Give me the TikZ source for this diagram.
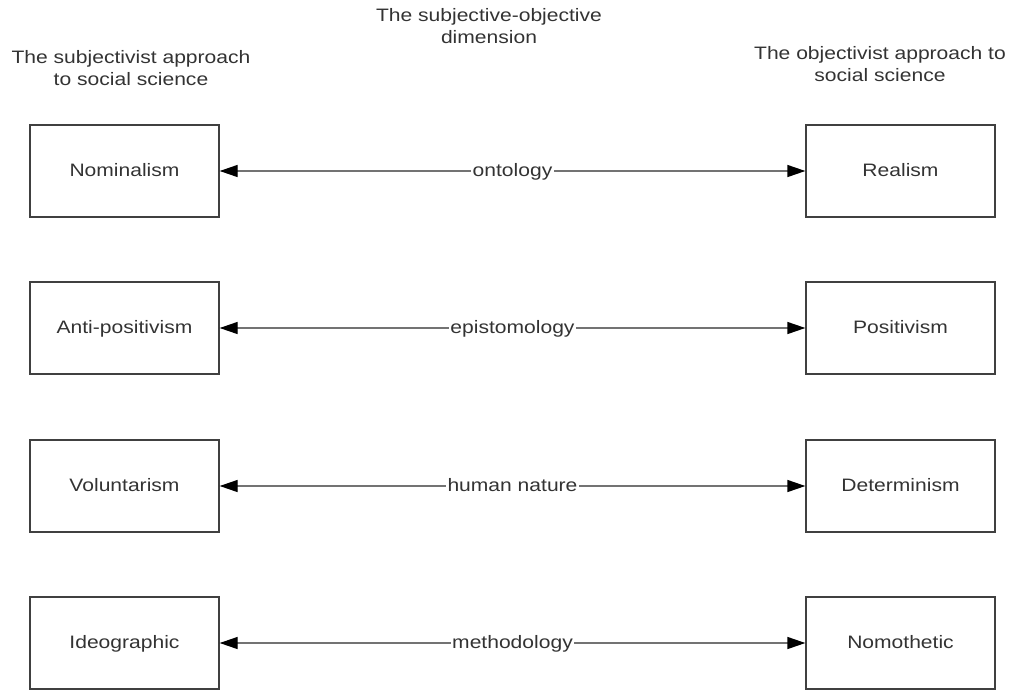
\documentclass[tikz,border=0pt]{standalone}
\usepackage{fontspec}
\setmainfont{Liberation Sans}[FakeStretch=1.17]
\usetikzlibrary{arrows.meta}
\begin{document}
\begin{tikzpicture}[x=1pt,y=-1pt,font=\fontsize{18}{22}\selectfont,text=black!80]
    \tikzstyle{concept}=[rectangle,draw=black!75,line width=1.3pt,minimum width=189pt,minimum height=92pt,inner sep=0pt,text height=14pt,text depth=3pt]
    \tikzstyle{dimension}=[fill=white,inner sep=1.5pt,text height=14pt,text depth=3pt]
    \tikzstyle{heading}=[align=center]
    \tikzstyle{link}=[draw=black!55,line width=1.3pt,{Triangle[black,length=18pt,width=12pt]}-{Triangle[black,length=18pt,width=12pt]}]
    \useasboundingbox (0,0) rectangle (1011,691);

    \node[heading] (subj) at (131,68) {The subjectivist approach\\to social science};
    \node[heading] (dim) at (489,26) {The subjective-objective\\dimension};
    \node[heading] (obj) at (880,64) {The objectivist approach to\\social science};

    \foreach \y/\l/\r/\d [count=\i] in {171/Nominalism/Realism/ontology,
        328/Anti-positivism/Positivism/epistomology,
        486/Voluntarism/Determinism/human nature,
        643/Ideographic/Nomothetic/methodology}
    {
    \node[concept] (L-\i) at (124.5,\y) {\l};
    \node[concept] (R-\i) at (900.5,\y) {\r};
    \path[link] (L-\i) -- node[dimension] {\d} (R-\i);
    }
\end{tikzpicture}
\end{document}
